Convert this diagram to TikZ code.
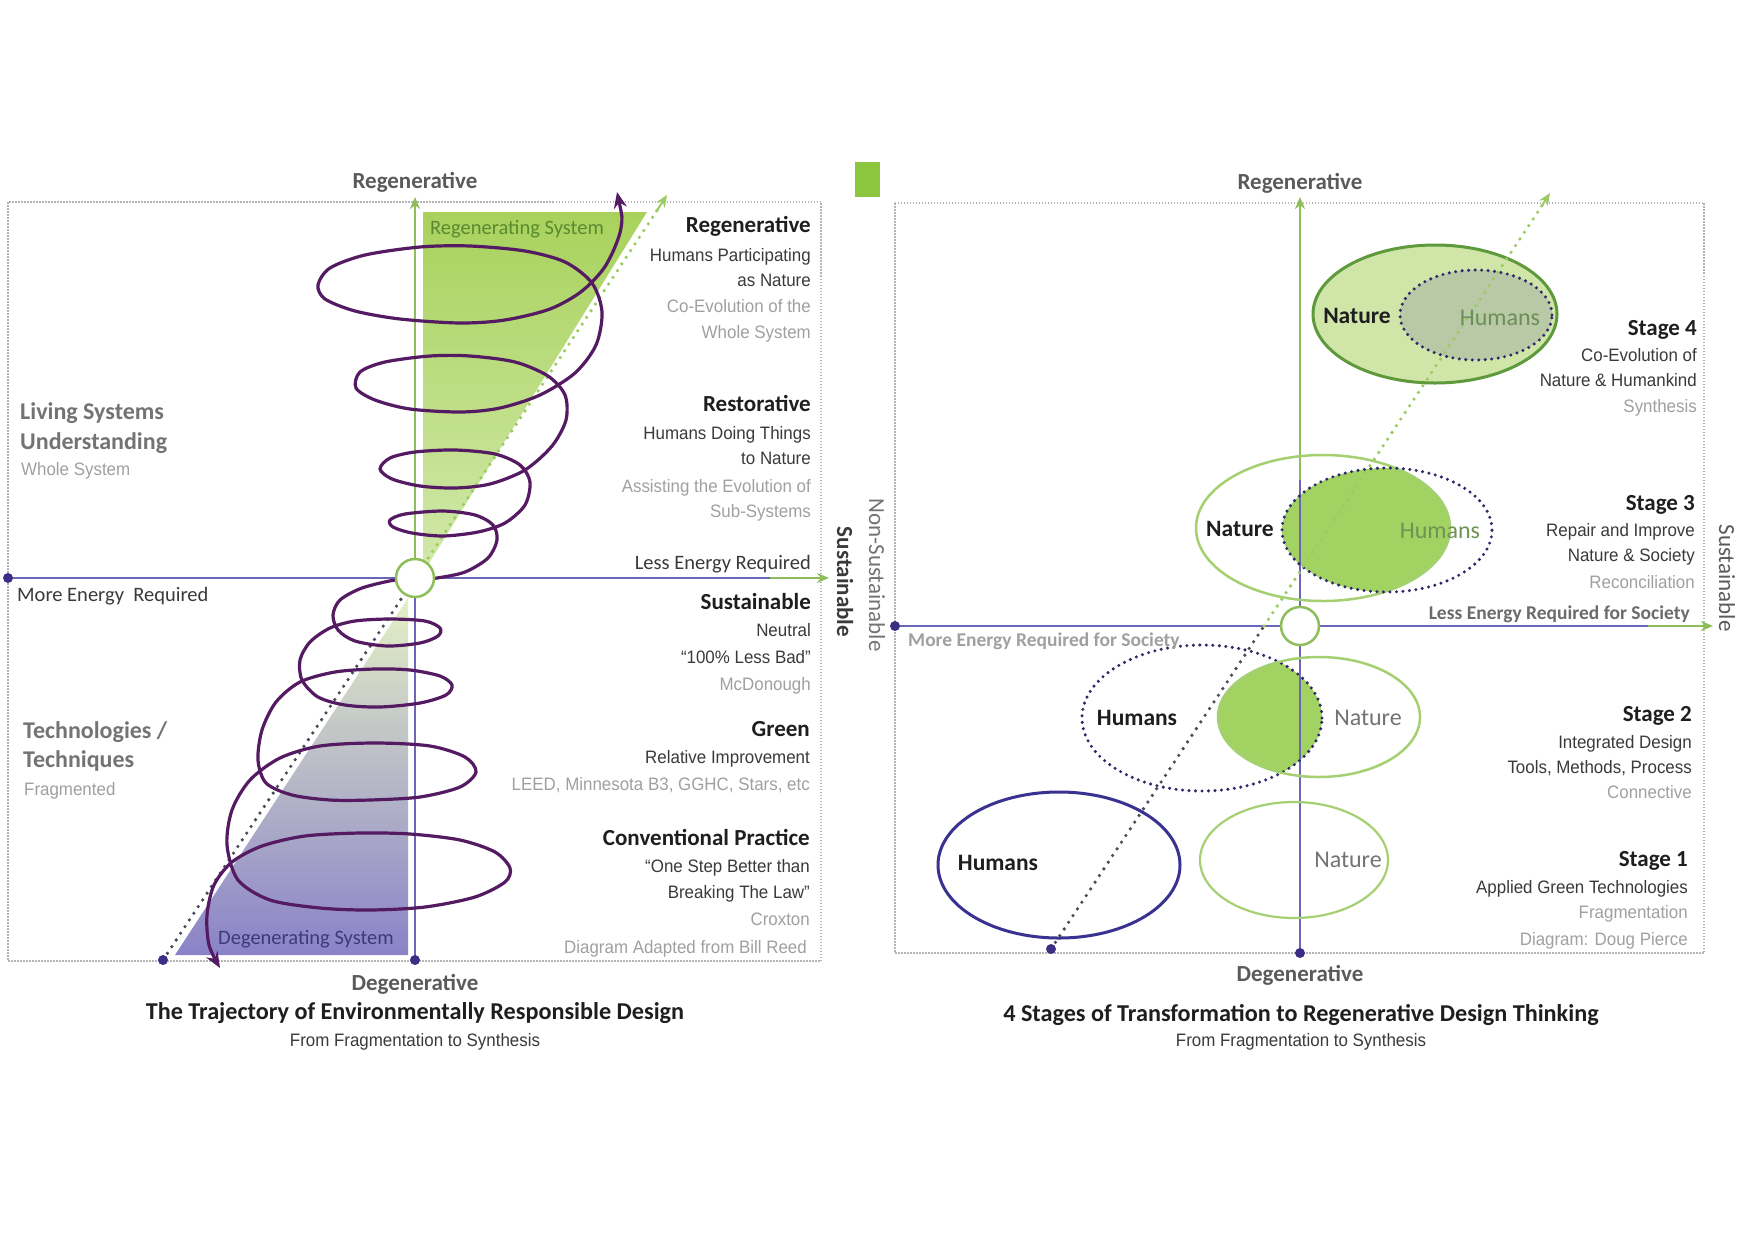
\documentclass[tikz,border=0pt]{standalone}
\usepackage{fontspec}
\setmainfont{Carlito}
\newfontfamily\nar[FakeStretch=0.94]{Liberation Sans}
\usetikzlibrary{arrows.meta}
\definecolor{axgreen}{HTML}{8DBE5A}
\definecolor{axpurple}{HTML}{6B66B8}
\definecolor{spiralc}{HTML}{541A62}
\definecolor{dotc}{HTML}{3B2F85}
\definecolor{boxgray}{HTML}{B4B4B4}
\definecolor{headblack}{HTML}{1E1E1E}
\definecolor{bodygray}{HTML}{3A3A3A}
\definecolor{notegray}{HTML}{A0A0A0}
\definecolor{labgray}{HTML}{5A5A5A}
\definecolor{livgray}{HTML}{737373}
\definecolor{trigA}{HTML}{A8D25C}
\definecolor{trigB}{HTML}{D2E9AC}
\definecolor{lowA}{HTML}{E4F0C6}
\definecolor{lowB}{HTML}{B8BBCF}
\definecolor{lowC}{HTML}{8A82C8}
\definecolor{regtext}{HTML}{5A8A30}
\definecolor{degtext}{HTML}{3C3B7A}
\definecolor{dotdarkc}{HTML}{4A4A5A}
\definecolor{dotgreenc}{HTML}{9CCB62}
\definecolor{sqgreen}{HTML}{8CC63F}
\definecolor{sfourfill}{HTML}{CFE6A8}
\definecolor{sfourline}{HTML}{5E9A3C}
\definecolor{sfourin}{HTML}{B9C9A6}
\definecolor{lensc}{HTML}{A2D262}
\definecolor{natline}{HTML}{A5D071}
\definecolor{navy}{HTML}{3A3290}
\definecolor{dotnavy}{HTML}{2E2A6A}
\definecolor{humgreen}{HTML}{6F9451}
\begin{document}
\begin{tikzpicture}[x=1pt,y=-1pt]
\tikzset{
  hd/.style={inner sep=0pt, font=\fontsize{23}{26}\selectfont\bfseries, text=headblack, text height=16pt, text depth=0pt},
  ttl/.style={hd, font=\fontsize{24.2}{27}\selectfont\bfseries, text height=16.8pt},
  bd/.style={inner sep=0pt, font=\nar\fontsize{18}{22}\selectfont, text=bodygray, text height=12.6pt, text depth=0pt},
  nt/.style={bd, text=notegray},
  lv/.style={hd, font=\fontsize{24}{27}\selectfont\bfseries, text=livgray, text height=16.8pt},
  axlab/.style={hd, text=labgray},
  energy/.style={inner sep=0pt, font=\fontsize{20.5}{23}\selectfont, text=bodygray, text height=14.3pt, text depth=0pt},
  soc/.style={inner sep=0pt, font=\fontsize{19.5}{22}\selectfont\bfseries, text=labgray!90, text height=13.6pt, text depth=0pt},
  sysl/.style={inner sep=0pt, font=\fontsize{20.5}{24}\selectfont, text height=14.3pt, text depth=0pt},
  boxline/.style={boxgray, line width=1.4pt, dash pattern=on 1.5pt off 1.5pt},
  axisline/.style={line width=2pt},
  tip/.style={-{Stealth[length=12pt,width=10pt]}},
  dotdiag/.style={line width=3.6pt, line cap=round, dash pattern=on 0pt off 8pt},
  dotell/.style={dotnavy, line width=3.4pt, line cap=round, dash pattern=on 0pt off 6.5pt},
  marker/.style={circle, fill=dotc, inner sep=0pt, minimum size=10pt},
  spiral/.style={spiralc, line width=3.2pt, {Stealth[length=16pt,width=13pt]}-{Stealth[length=16pt,width=13pt]}},
  elltext/.style={inner sep=0pt, font=\fontsize{23.5}{26}\selectfont\bfseries, text=headblack, text height=16.4pt, text depth=0pt},
  elltextr/.style={inner sep=0pt, font=\fontsize{24}{26}\selectfont, text height=16.8pt, text depth=0pt},
  rot/.style={inner sep=0pt, font=\fontsize{23}{26}\selectfont, rotate=-90, text height=16pt, text depth=0pt}
}
\fill[white] (0,0) rectangle (1747,1240);
\useasboundingbox (0,0) rectangle (1747,1240);

% ================= LEFT PANEL =================
\draw[boxline] (8,202) rectangle (821,961);
\shade[top color=trigA, bottom color=trigB] (423,212) -- (647,212) -- (423,573) -- cycle;
\shade[top color=lowA, middle color=lowB, bottom color=lowC] (408,598) -- (408,955) -- (175,955) -- cycle;

\node[sysl, text=regtext, anchor=west] (regsys) at (430,227) {Regenerating System};
\node[sysl, text=degtext, anchor=west] (degsys) at (218,937) {Degenerating System};

% axes
\draw[axpurple, axisline] (415,960) -- (415,578);
\draw[axgreen, axisline, tip] (415,578) -- (415,197);
\draw[axpurple, axisline] (8,578) -- (772,578);
\draw[axgreen, axisline, tip] (770,578) -- (829,578);

% diagonal
\draw[dotdiag, dotdarkc] (163,960) -- (415,578);
\draw[dotdiag, dotgreenc] (415,578) -- (658,209);
\draw[dotgreenc, line width=2pt, tip] (656,212) -- (667,195);

% spiral
\draw[spiral] plot[smooth] coordinates {
(617,192) (621,228) (606,265) (582,291) (550,309) (505,320) (460,323) (400,319) (355,311) (325,299) (318,285) (330,268) (365,255) (420,247) (470,246) (525,251) (565,262) (592,283) (602,312) (596,345) (575,373) (540,395) (500,408) (461,412) (410,409) (375,400) (356,388) (360,372) (385,362) (430,356) (470,356) (515,362) (548,376) (565,395) (566,420) (552,446) (525,470) (490,484) (455,488) (420,486) (392,479) (380,469) (390,458) (415,452) (455,450) (495,454) (520,465) (530,482) (525,505) (505,523) (478,532) (443,536) (412,533) (393,527) (390,520) (405,514) (443,511) (475,515) (493,525) (497,540) (488,558) (465,572) (437,578) (415,580) (395,580) (362,588) (340,600)
(333,615) (338,630) (355,641) (387,646) (420,643) (438,636) (440,628) (425,621) (390,619) (355,621) (330,628) (310,642) (300,660) (302,680) (318,697) (345,705) (380,707) (420,703) (446,695) (452,685) (440,676) (410,670) (375,669) (335,672) (300,682) (276,702) (262,730) (258,760) (266,783) (292,795) (330,800) (370,800) (420,797) (460,787) (476,772) (465,757) (430,746) (375,743) (320,746) (280,758) (250,780) (232,810) (227,845) (238,880) (270,900) (320,908) (370,910) (425,907) (475,897) (505,882) (510,868) (495,852) (460,840) (410,834) (360,833) (305,836) (262,846) (232,862) (214,885) (207,915) (209,945) (220,968)};

\node[circle, draw=axgreen, line width=2.5pt, fill=white, minimum size=38pt, inner sep=0pt] (lcirc) at (415,578) {};
\node[marker] (lm1) at (8,578) {};
\node[marker] (lm2) at (163,960) {};
\node[marker] (lm3) at (415,960) {};

% left panel texts
\node[axlab] (ltop) at (415,180) {Regenerative};
\node[axlab] (lbot) at (415,982) {Degenerative};
\node[ttl] (ltitle) at (415,1011) {The Trajectory of Environmentally Responsible Design};
\node[bd] (lsub) at (415,1040) {From Fragmentation to Synthesis};

\node[lv, anchor=west] (liv1) at (20,411) {Living Systems};
\node[lv, anchor=west] (liv2) at (20,441) {Understanding};
\node[nt, anchor=west] (liv3) at (21,469) {Whole System};
\node[energy, anchor=west] (more) at (17,594) {More Energy~ Required};
\node[lv, anchor=west] (tec1) at (23,730) {Technologies /};
\node[lv, anchor=west] (tec2) at (23,759) {Techniques};
\node[nt, anchor=west] (tec3) at (24,789) {Fragmented};

\node[hd, anchor=east] (r1) at (811,224) {Regenerative};
\node[bd, anchor=east] (r2) at (811,255) {Humans Participating};
\node[bd, anchor=east] (r3) at (811,280) {as Nature};
\node[nt, anchor=east] (r4) at (811,306) {Co-Evolution of the};
\node[nt, anchor=east] (r5) at (811,332) {Whole System};
\node[hd, anchor=east] (s1) at (811,403) {Restorative};
\node[bd, anchor=east] (s2) at (811,433) {Humans Doing Things};
\node[bd, anchor=east] (s3) at (811,458) {to Nature};
\node[nt, anchor=east] (s4) at (811,486) {Assisting the Evolution of};
\node[nt, anchor=east] (s5) at (811,511) {Sub-Systems};
\node[energy, anchor=east] (less) at (811,562) {Less Energy Required};
\node[hd, anchor=east] (u1) at (811,601) {Sustainable};
\node[bd, anchor=east] (u2) at (811,630) {Neutral};
\node[bd, anchor=east] (u3) at (811,657) {“100\% Less Bad”};
\node[nt, anchor=east] (u4) at (811,684) {McDonough};
\node[hd, anchor=east] (g1) at (810,728) {Green};
\node[bd, anchor=east] (g2) at (810,757) {Relative Improvement};
\node[nt, anchor=east] (g3) at (810,784) {LEED, Minnesota B3, GGHC, Stars, etc};
\node[hd, anchor=east] (c1) at (810,837) {Conventional Practice};
\node[bd, anchor=east] (c2) at (810,866) {“One Step Better than};
\node[bd, anchor=east] (c3) at (810,892) {Breaking The Law”};
\node[nt, anchor=east] (c4) at (810,919) {Croxton};
\node[nt, anchor=east] (c5) at (807,947) {Diagram Adapted from Bill Reed};

% middle rotated labels
\node[rot, font=\fontsize{23}{26}\selectfont\bfseries, text=bodygray] (msus) at (845,582) {Sustainable};
\node[rot, text=livgray] (mnon) at (877,575) {Non-Sustainable};

% ================= RIGHT PANEL =================
\fill[sqgreen] (855,162) rectangle (880,197);
\draw[boxline] (895,203) rectangle (1704,953);

% ellipse fills
\fill[sfourfill] (1435,314) ellipse [x radius=122pt, y radius=69pt];
\fill[sfourin] (1476,315) ellipse [x radius=76pt, y radius=45pt];
\begin{scope}
  \clip (1323,528) ellipse [x radius=127pt, y radius=73pt];
  \fill[lensc] (1387,530) ellipse [x radius=105pt, y radius=62pt];
\end{scope}
\begin{scope}
  \clip (1202,718) ellipse [x radius=120pt, y radius=73pt];
  \fill[lensc] (1319,717) ellipse [x radius=101pt, y radius=60pt];
\end{scope}

% axes
\draw[axgreen, axisline, tip] (1300,480) -- (1300,197);
\draw[axpurple, axisline] (1300,953) -- (1300,480);
\draw[axpurple, axisline] (895,626) -- (1650,626);
\draw[axgreen, axisline, tip] (1648,626) -- (1713,626);

% ellipse outlines
\draw[sfourline, line width=3pt] (1435,314) ellipse [x radius=122pt, y radius=69pt];
\draw[dotell] (1476,315) ellipse [x radius=76pt, y radius=45pt];
\draw[natline, line width=2.5pt] (1323,528) ellipse [x radius=127pt, y radius=73pt];
\draw[dotell] (1387,530) ellipse [x radius=105pt, y radius=62pt];
\draw[dotell] (1202,718) ellipse [x radius=120pt, y radius=73pt];
\draw[natline, line width=2.5pt] (1319,717) ellipse [x radius=101pt, y radius=60pt];
\draw[navy, line width=3pt] (1059,865) ellipse [x radius=121pt, y radius=73pt];
\draw[natline, line width=2.2pt] (1294,860) ellipse [x radius=94pt, y radius=58pt];

% diagonal
\draw[dotdiag, dotdarkc] (1051,949) -- (1264,626);
\draw[dotdiag, dotgreenc] (1264,626) -- (1543,204);
\draw[dotgreenc, line width=2pt, tip] (1541,207) -- (1550,193);

\node[circle, draw=axgreen, line width=2.5pt, fill=white, minimum size=38pt, inner sep=0pt] (rcirc) at (1300,626) {};
\node[marker] (rm1) at (895,626) {};
\node[marker] (rm2) at (1051,949) {};
\node[marker] (rm3) at (1300,953) {};

% ellipse labels
\node[elltext] (n4) at (1357,315) {Nature};
\node[elltextr, text=sfourline!60!gray] (h4) at (1500,317) {Humans};
\node[elltext] (n3) at (1240,528) {Nature};
\node[elltextr, text=humgreen] (h3) at (1440,530) {Humans};
\node[elltext] (h2) at (1137,717) {Humans};
\node[elltextr, text=livgray] (n2) at (1368,717) {Nature};
\node[elltext] (h1) at (998,862) {Humans};
\node[elltextr, text=livgray] (n1) at (1348,859) {Nature};

% right panel texts
\node[axlab] (rtop) at (1300,181) {Regenerative};
\node[axlab] (rbot) at (1300,973) {Degenerative};
\node[ttl] (rtitle) at (1301,1013) {4 Stages of Transformation to Regenerative Design Thinking};
\node[bd] (rsub) at (1301,1040) {From Fragmentation to Synthesis};

\node[soc, anchor=west, text=notegray] (rmore) at (908,640) {More Energy Required for Society};
\node[soc, anchor=east] (rless) at (1690,613) {Less Energy Required for Society};

\node[hd, anchor=east] (st4) at (1697,327) {Stage 4};
\node[bd, anchor=east] (st4a) at (1697,355) {Co-Evolution of};
\node[bd, anchor=east] (st4b) at (1697,380) {Nature \& Humankind};
\node[nt, anchor=east] (st4c) at (1697,406) {Synthesis};
\node[hd, anchor=east] (st3) at (1695,502) {Stage 3};
\node[bd, anchor=east] (st3a) at (1695,530) {Repair and Improve};
\node[bd, anchor=east] (st3b) at (1695,555) {Nature \& Society};
\node[nt, anchor=east] (st3c) at (1695,582) {Reconciliation};
\node[hd, anchor=east] (st2) at (1692,713) {Stage 2};
\node[bd, anchor=east] (st2a) at (1692,742) {Integrated Design};
\node[bd, anchor=east] (st2b) at (1692,767) {Tools, Methods, Process};
\node[nt, anchor=east] (st2c) at (1692,792) {Connective};
\node[hd, anchor=east] (st1) at (1688,858) {Stage 1};
\node[bd, anchor=east] (st1a) at (1688,887) {Applied Green Technologies};
\node[nt, anchor=east] (st1b) at (1688,912) {Fragmentation};
\node[nt, anchor=east] (st1c) at (1688,939) {Diagram: Doug Pierce};

\node[rot, text=labgray] (rsus) at (1727,578) {Sustainable};
\end{tikzpicture}
\end{document}
